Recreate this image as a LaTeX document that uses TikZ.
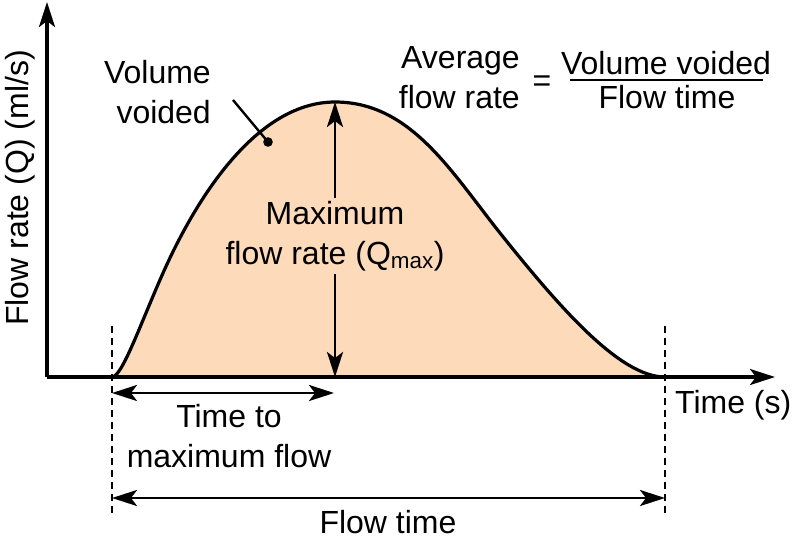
\documentclass[tikz,border=0pt]{standalone}
\usepackage{fontspec}
\setmainfont{Liberation Sans}
\usetikzlibrary{arrows.meta}
\definecolor{peach}{RGB}{253,218,186}
\tikzset{
  lbl/.style={inner sep=0pt, font=\fontsize{32}{40}\selectfont},
  axisline/.style={line width=3.2pt, -{Stealth[length=25pt,width=16pt,inset=6pt]}},
  dblarrow/.style={line width=2.8pt, {Stealth[length=25pt,width=16pt,inset=6pt]}-{Stealth[length=25pt,width=16pt,inset=6pt]}},
  dashline/.style={line width=2.4pt, dash pattern=on 7pt off 5pt},
  curveline/.style={line width=3.2pt},
}
\begin{document}
\begin{tikzpicture}[x=1pt,y=-1pt]
\useasboundingbox (0,0) rectangle (800,542);
% key points
\coordinate (O) at (47,377);
\coordinate (ytop) at (47,2);
\coordinate (xend) at (775,377);
\coordinate (start) at (112,377);
\coordinate (peak) at (335,102);
\coordinate (pbase) at (335,377);
\coordinate (finish) at (665,377);
% filled flow curve
\path[fill=peach] (start) .. controls (122,377) and (140,325) .. (163,273)
  .. controls (200,190) and (260,102) .. (peak)
  .. controls (410,102) and (450,170) .. (500,233)
  .. controls (560,308) and (620,377) .. (finish) -- cycle;
\draw[curveline] (start) .. controls (122,377) and (140,325) .. (163,273)
  .. controls (200,190) and (260,102) .. (peak)
  .. controls (410,102) and (450,170) .. (500,233)
  .. controls (560,308) and (620,377) .. (finish);
% axes
\draw[axisline] (O) -- (ytop);
\draw[axisline] (O) -- (xend);
% dashed verticals
\coordinate (dl1) at (112,326);
\coordinate (dl2) at (112,514);
\coordinate (dr1) at (665,326);
\coordinate (dr2) at (665,514);
\draw[dashline] (dl1) -- (dl2);
\draw[dashline] (dr1) -- (dr2);
% time to max arrow
\coordinate (tm1) at (112,393);
\coordinate (tm2) at (334,393);
\draw[dblarrow] (tm1) -- (tm2);
% flow time arrow
\coordinate (ft1) at (112,498);
\coordinate (ft2) at (665,498);
\draw[dblarrow] (ft1) -- (ft2);
% Qmax arrow
\draw[dblarrow] (peak) -- (pbase);
\node[lbl, fill=peach, inner sep=3pt, align=center] (qmax) at (335,236) {Maximum\\flow rate (Q\textsubscript{max})};
% volume voided
\node[lbl, align=right, anchor=base east] (vv) at (211,123) {Volume\\voided};
\coordinate (vvline) at (233,100);
\coordinate (vvdot) at (268,142);
\draw[line width=2.4pt] (vvline) -- (vvdot);
\fill (vvdot) circle (4.8pt);
% average flow rate
\node[lbl, align=right, anchor=base east] (avg) at (520,108) {Average\\flow rate};
\node[lbl, anchor=base] (eq) at (542,91) {=};
\node[lbl, anchor=base] (num) at (666,74) {Volume voided};
\node[lbl, anchor=base] (den) at (667,108) {Flow time};
\coordinate (bar1) at (570,80);
\coordinate (bar2) at (763,80);
\draw[line width=2.4pt] (bar1) -- (bar2);
% axis labels
\node[lbl, anchor=base west] (tlabel) at (675,413) {Time (s)};
\node[lbl, rotate=90, anchor=base] (ylabel) at (28,188) {Flow rate (Q) (ml/s)};
% arrow labels
\node[lbl, anchor=base, align=center] (ttm) at (229,467) {Time to\\maximum flow};
\node[lbl, anchor=base] (ftl) at (388,533) {Flow time};
\end{tikzpicture}
\end{document}
